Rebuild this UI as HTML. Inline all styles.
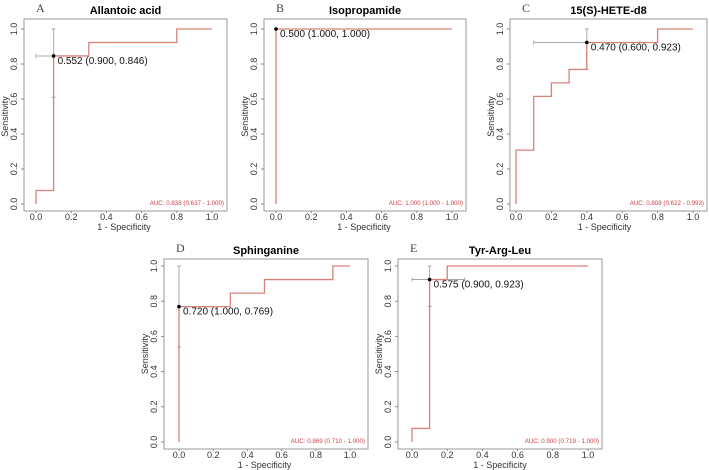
<!DOCTYPE html>
<html><head><meta charset="utf-8"><style>
body{margin:0;background:#fff;}
svg{display:block;font-family:"Liberation Sans",Arial,sans-serif;}
</style></head><body>
<svg id="c" width="709" height="470" viewBox="0 0 709 470"></svg>
<script>
const panelLetters=["A","B","C","D","E"];
const panelTitles=["Allantoic acid","Isopropamide","15(S)-HETE-d8","Sphinganine","Tyr-Arg-Leu"];
const rocA=[[0,0],[0,0.077],[0.1,0.077],[0.1,0.846],[0.3,0.846],[0.3,0.923],[0.8,0.923],[0.8,1],[1,1]];
const rocB=[[0,0],[0,1],[1,1]];
const rocC=[[0,0],[0,0.308],[0.1,0.308],[0.1,0.615],[0.2,0.615],[0.2,0.692],[0.3,0.692],[0.3,0.769],[0.4,0.769],[0.4,0.923],[0.8,0.923],[0.8,1],[1,1]];
const rocD=[[0,0],[0,0.769],[0.3,0.769],[0.3,0.846],[0.5,0.846],[0.5,0.923],[0.9,0.923],[0.9,1],[1,1]];
const rocE=[[0,0],[0,0.077],[0.1,0.077],[0.1,0.923],[0.2,0.923],[0.2,1],[1,1]];
const curves=[rocA,rocB,rocC,rocD,rocE];
const bestPoints=[[0.1,0.846],[0,1],[0.4,0.923],[0,0.769],[0.1,0.923]];
const bestLabels=["0.552 (0.900, 0.846)","0.500 (1.000, 1.000)","0.470 (0.600, 0.923)","0.720 (1.000, 0.769)","0.575 (0.900, 0.923)"];
const ciX=[[0,0.1],[0,0],[0.1,0.7],[0,0],[0,0.3]];
const ciY=[[0.61,1],[1,1],[0.77,1],[0.54,1],[0.77,1]];
const aucLabels=["AUC: 0.838 (0.637 - 1.000)","AUC: 1.000 (1.000 - 1.000)","AUC: 0.808 (0.622 - 0.993)","AUC: 0.869 (0.710 - 1.000)","AUC: 0.900 (0.719 - 1.000)"];
const tickVals=[0,0.2,0.4,0.6,0.8,1.0];
const tickLabels=["0.0","0.2","0.4","0.6","0.8","1.0"];
const layout=[
 {box:[24,19,227,211],x0:36,x1:212,y0:204,y1:29},
 {box:[264,19,466,211],x0:276,x1:452,y0:204,y1:29},
 {box:[510,19,707,211],x0:516,x1:693,y0:204,y1:29},
 {box:[164,259,368,449],x0:179,x1:350,y0:442,y1:266},
 {box:[398,259,602,449],x0:412,x1:588,y0:442,y1:266}
];
const svg=document.getElementById('c');
const NS='http://www.w3.org/2000/svg';
function mk(tag,attrs,parent,text){const e=document.createElementNS(NS,tag);for(const k in attrs)e.setAttribute(k,attrs[k]);if(text!==undefined)e.textContent=text;parent.appendChild(e);return e;}
layout.forEach((L,i)=>{
 const g=mk('g',{},svg);
 
 
 const sx=v=>L.x0+(L.x1-L.x0)*v, sy=v=>L.y0+(L.y1-L.y0)*v;
 const [bl,bt,br,bb]=L.box;
 const box=mk('rect',{x:bl,y:bt,width:br-bl,height:bb-bt,fill:'none',stroke:'#999','stroke-width':1},g);
 
 const let_=mk('text',{x:bl+12,y:bt-7,'font-family':'Liberation Serif,serif','font-size':12,fill:'#444'},g,panelLetters[i]);
 
 const tt=mk('text',{x:(bl+br)/2,y:bt-5,'text-anchor':'middle','font-size':11,'font-weight':'bold',fill:'#000'},g,panelTitles[i]);
 
 tickVals.forEach((v,k)=>{
  mk('line',{x1:sx(v),x2:sx(v),y1:bb,y2:bb+2,stroke:'#888'},g);
  const xt=mk('text',{x:sx(v),y:bb+9,'text-anchor':'middle','font-size':9,fill:'#333'},g,tickLabels[k]);
  
  mk('line',{x1:bl-3,x2:bl,y1:sy(v),y2:sy(v),stroke:'#888'},g);
  const yt=mk('text',{x:0,y:0,'text-anchor':'middle','font-size':9,fill:'#333',transform:`translate(${bl-7},${sy(v)}) rotate(-90)`},g,tickLabels[k]);
  
 });
 const xl=mk('text',{x:(L.x0+L.x1)/2,y:bb+19,'text-anchor':'middle','font-size':9,fill:'#333'},g,'1 - Specificity');
 
 const yl=mk('text',{x:0,y:0,'text-anchor':'middle','font-size':9,fill:'#333',transform:`translate(${bl-16},${(L.y0+L.y1)/2}) rotate(-90)`},g,'Sensitivity');
 
 const bp=bestPoints[i];
 const ch=mk('line',{x1:sx(ciX[i][0]),x2:sx(ciX[i][1]),y1:sy(bp[1]),y2:sy(bp[1]),stroke:'#aaa'},g);
 
 const cv=mk('line',{x1:sx(bp[0]),x2:sx(bp[0]),y1:sy(ciY[i][0]),y2:sy(ciY[i][1]),stroke:'#aaa'},g);
 
 [[ciX[i][0],bp[1],0],[ciX[i][1],bp[1],0],[bp[0],ciY[i][0],1],[bp[0],ciY[i][1],1]].forEach(c=>{
  if(c[2]==0)mk('line',{x1:sx(c[0]),x2:sx(c[0]),y1:sy(c[1])-2,y2:sy(c[1])+2,stroke:'#aaa'},g);
  else mk('line',{x1:sx(c[0])-2,x2:sx(c[0])+2,y1:sy(c[1]),y2:sy(c[1]),stroke:'#aaa'},g);
 });
 const pts=curves[i].map(p=>sx(p[0])+','+sy(p[1])).join(' ');
 const pl=mk('polyline',{points:pts,fill:'none',stroke:'#d9827a','stroke-width':1.3},g);
 
 const dot=mk('circle',{cx:sx(bp[0]),cy:sy(bp[1]),r:1.8,fill:'#000'},g);
 
 const bl2=mk('text',{x:sx(bp[0])+4,y:sy(bp[1])+8,'font-size':10,fill:'#111'},g,bestLabels[i]);
 
 const au=mk('text',{x:br-3,y:L.y0+1,'text-anchor':'end','font-size':6.2,fill:'#d0404a'},g,aucLabels[i]);
 
});
</script>
</body></html>
